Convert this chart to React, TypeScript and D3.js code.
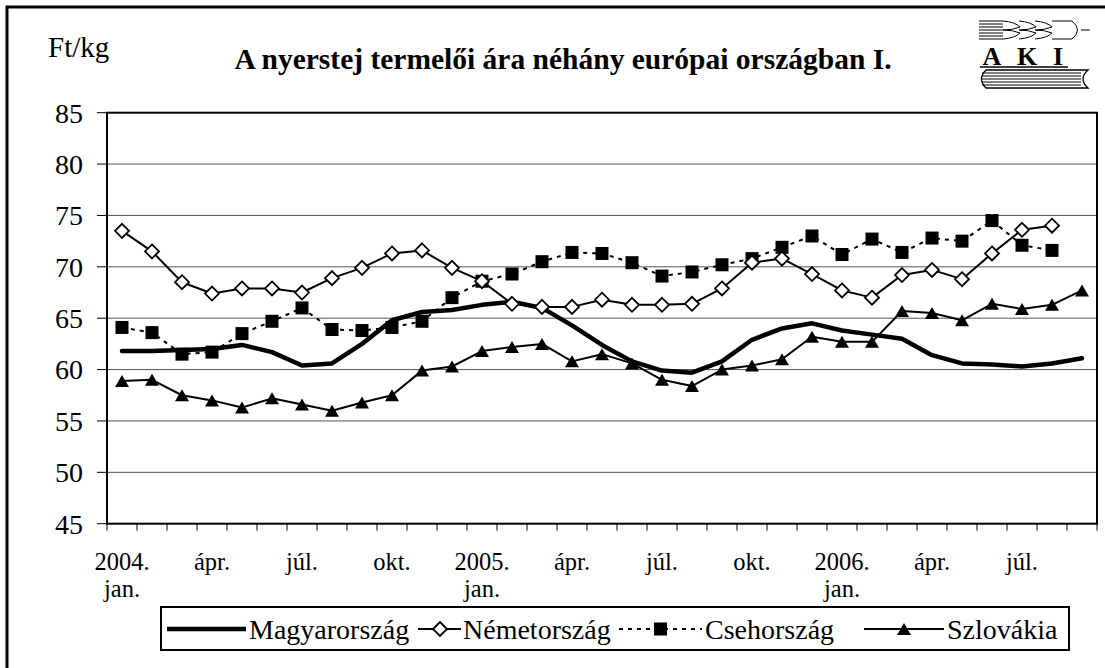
import React from 'react';
import * as d3 from 'd3';

const MONTHS = [
  "2004-01","2004-02","2004-03","2004-04","2004-05","2004-06","2004-07","2004-08","2004-09","2004-10","2004-11","2004-12",
  "2005-01","2005-02","2005-03","2005-04","2005-05","2005-06","2005-07","2005-08","2005-09","2005-10","2005-11","2005-12",
  "2006-01","2006-02","2006-03","2006-04","2006-05","2006-06","2006-07","2006-08","2006-09"
];
const LABEL_MONTHS = ["2004-01","2004-04","2004-07","2004-10","2005-01","2005-04","2005-07","2005-10","2006-01","2006-04","2006-07"];
const LABEL_LINE1 = ["2004.","ápr.","júl.","okt.","2005.","ápr.","júl.","okt.","2006.","ápr.","júl."];
const LABEL_LINE2 = ["jan.","","","","jan.","","","","jan.","",""];
const Y_TICKS = [45, 50, 55, 60, 65, 70, 75, 80, 85];

const MAGYARORSZAG = [61.8, 61.8, 61.9, 62.0, 62.4, 61.7, 60.4, 60.6, 62.5, 64.8, 65.6, 65.8, 66.3, 66.6, 66.0, 64.3, 62.4, 60.8, 59.9, 59.7, 60.8, 62.9, 64.0, 64.5, 63.8, 63.4, 63.0, 61.4, 60.6, 60.5, 60.3, 60.6, 61.1];
const NEMETORSZAG = [73.5, 71.5, 68.5, 67.4, 67.9, 67.9, 67.5, 68.9, 69.9, 71.3, 71.6, 69.9, 68.6, 66.4, 66.1, 66.1, 66.8, 66.3, 66.3, 66.4, 67.9, 70.4, 70.8, 69.3, 67.7, 67.0, 69.2, 69.7, 68.8, 71.3, 73.6, 74.0];
const CSEHORSZAG = [64.1, 63.6, 61.5, 61.7, 63.5, 64.7, 66.0, 63.9, 63.8, 64.1, 64.7, 67.0, 68.6, 69.3, 70.5, 71.4, 71.3, 70.4, 69.1, 69.5, 70.2, 70.8, 71.9, 73.0, 71.2, 72.7, 71.4, 72.8, 72.5, 74.5, 72.1, 71.6];
const SZLOVAKIA = [58.9, 59.0, 57.5, 57.0, 56.3, 57.2, 56.6, 56.0, 56.8, 57.5, 59.9, 60.3, 61.8, 62.2, 62.5, 60.8, 61.5, 60.6, 59.0, 58.4, 60.0, 60.4, 61.0, 63.2, 62.7, 62.7, 65.7, 65.5, 64.8, 66.4, 65.9, 66.3, 67.7];

const SERIES_NAMES = ["Magyarország", "Németország", "Csehország", "Szlovákia"];

const FONT = "'Liberation Serif', 'Times New Roman', serif";

const PLOT = { left: 107, right: 1097, top: 112.7, bottom: 523.7 };

function diamond(cx: number, cy: number, r: number) {
  return `M${cx},${cy - r}L${cx + r},${cy}L${cx},${cy + r}L${cx - r},${cy}Z`;
}
function triangle(cx: number, cy: number, w: number, h: number) {
  return `M${cx},${cy - h / 2}L${cx + w / 2},${cy + h / 2}L${cx - w / 2},${cy + h / 2}Z`;
}

export default function App() {
  const x = d3.scaleBand<string>().domain(MONTHS).range([PLOT.left, PLOT.right]).padding(0);
  const bw = x.bandwidth();
  const cx = (i: number) => (x(MONTHS[i]) as number) + bw / 2;
  const y = d3.scaleLinear().domain([45, 85]).range([PLOT.bottom, PLOT.top]);

  const line = d3.line<number>().x((_, i) => cx(i)).y((d) => y(d));

  const tickBounds = MONTHS.map((m) => x(m) as number).concat([PLOT.right]);

  const T = { fontFamily: FONT, fill: '#000' } as React.CSSProperties;

  return (
    <svg width={1105} height={668} style={{ position: 'absolute', left: 0, top: 0, background: '#fff' }}>
      <rect x={0} y={0} width={1105} height={668} fill="#fff" />
      {/* outer frame */}
      <rect x={7} y={7} width={1110} height={700} fill="none" stroke="#000" strokeWidth={3} />

      {/* header */}
      <text x={48} y={57} fontSize={29} style={T}>Ft/kg</text>
      <text x={563} y={69} fontSize={29.5} fontWeight="bold" textAnchor="middle" style={T}>A nyerstej termelői ára néhány európai országban I.</text>

      {/* logo */}
      <g stroke="#000" fill="none" strokeWidth={1}>
        {[21, 24, 27, 30, 33, 36, 39].map((yy) => (
          <line key={yy} x1={979} x2={1003} y1={yy} y2={yy} />
        ))}
        {[1003, 1019, 1035].map((xx) => (
          <g key={xx}>
            <path d={`M${xx},21 Q${xx + 12},22 ${xx + 17},27 Q${xx + 10},30 ${xx},30`} />
            <path d={`M${xx},39 Q${xx + 12},38 ${xx + 17},33 Q${xx + 10},30 ${xx},30`} />
          </g>
        ))}
        <path d="M1052,21 L1072,21 Q1083,30 1072,39 L1052,39" />
        <line x1={1081} x2={1090} y1={30} y2={30} />
        <line x1={980} x2={1068} y1={67} y2={67} strokeWidth={1.5} />
        <path d="M986,70 L1088,70 Q1078,79 1088,88 L986,88 Q977,79 986,70 Z" strokeWidth={1.3} />
        {[73, 76, 79, 82, 85].map((yy) => (
          <line key={yy} x1={982} x2={1081} y1={yy} y2={yy} />
        ))}
      </g>
      <g fontSize={26} fontWeight="bold">
        <text x={992} y={65} textAnchor="middle" style={T}>A</text>
        <text x={1027} y={65} textAnchor="middle" style={T}>K</text>
        <text x={1058} y={65} textAnchor="middle" style={T}>I</text>
      </g>

      {/* gridlines */}
      {Y_TICKS.filter((t) => t > 45 && t < 85).map((t) => (
        <line key={t} x1={PLOT.left} x2={PLOT.right} y1={y(t)} y2={y(t)} stroke="#555" strokeWidth={1} />
      ))}

      {/* plot border */}
      <rect x={PLOT.left} y={PLOT.top} width={PLOT.right - PLOT.left} height={PLOT.bottom - PLOT.top} fill="none" stroke="#000" strokeWidth={2} />

      {/* y axis ticks and labels */}
      {Y_TICKS.map((t) => (
        <g key={t}>
          <line x1={PLOT.left - 10} x2={PLOT.left} y1={y(t)} y2={y(t)} stroke="#000" strokeWidth={1} />
          <text x={83} y={y(t)} dy="0.35em" fontSize={28} textAnchor="end" style={T}>{t}</text>
        </g>
      ))}

      {/* x axis ticks */}
      {tickBounds.map((b, i) => (
        <line key={i} x1={b} x2={b} y1={PLOT.bottom} y2={PLOT.bottom + 7} stroke="#000" strokeWidth={1} />
      ))}
      {LABEL_MONTHS.map((m, i) => {
        const xx = (x(m) as number) + bw / 2;
        return (
          <g key={m}>
            <text x={xx} y={570} fontSize={24.5} textAnchor="middle" style={T}>{LABEL_LINE1[i]}</text>
            {LABEL_LINE2[i] && <text x={xx} y={597} fontSize={24.5} textAnchor="middle" style={T}>{LABEL_LINE2[i]}</text>}
          </g>
        );
      })}

      {/* series */}
      <path d={line(CSEHORSZAG) || ''} fill="none" stroke="#000" strokeWidth={2} strokeDasharray="4,5" />
      <path d={line(SZLOVAKIA) || ''} fill="none" stroke="#000" strokeWidth={2} strokeLinejoin="round" />
      <path d={line(NEMETORSZAG) || ''} fill="none" stroke="#000" strokeWidth={2} strokeLinejoin="round" />
      <path d={line(MAGYARORSZAG) || ''} fill="none" stroke="#000" strokeWidth={4.5} strokeLinejoin="round" strokeLinecap="round" />

      {CSEHORSZAG.map((v, i) => (
        <rect key={'c' + i} x={cx(i) - 6.5} y={y(v) - 6.5} width={13} height={13} fill="#000" />
      ))}
      {SZLOVAKIA.map((v, i) => (
        <path key={'s' + i} d={triangle(cx(i), y(v), 14, 12)} fill="#000" />
      ))}
      {NEMETORSZAG.map((v, i) => (
        <path key={'n' + i} d={diamond(cx(i), y(v), 7)} fill="#fff" stroke="#000" strokeWidth={1.8} />
      ))}

      {/* legend */}
      <rect x={161} y={607} width={908} height={43} fill="#fff" stroke="#000" strokeWidth={2} />
      <g fontSize={28}>
        <line x1={167} x2={246} y1={629} y2={629} stroke="#000" strokeWidth={4.5} />
        <text x={249} y={639} style={T}>{SERIES_NAMES[0]}</text>

        <line x1={418} x2={461} y1={629} y2={629} stroke="#000" strokeWidth={2} />
        <path d={diamond(440, 629, 7)} fill="#fff" stroke="#000" strokeWidth={1.8} />
        <text x={463} y={639} style={T}>{SERIES_NAMES[1]}</text>

        <line x1={619} x2={702} y1={629} y2={629} stroke="#000" strokeWidth={2} strokeDasharray="4,5" />
        <rect x={654} y={622.5} width={13} height={13} fill="#000" />
        <text x={705} y={639} style={T}>{SERIES_NAMES[2]}</text>

        <line x1={864} x2={944} y1={629} y2={629} stroke="#000" strokeWidth={2} />
        <path d={triangle(904, 629, 14, 12)} fill="#000" />
        <text x={947} y={639} style={T}>{SERIES_NAMES[3]}</text>
      </g>
    </svg>
  );
}
